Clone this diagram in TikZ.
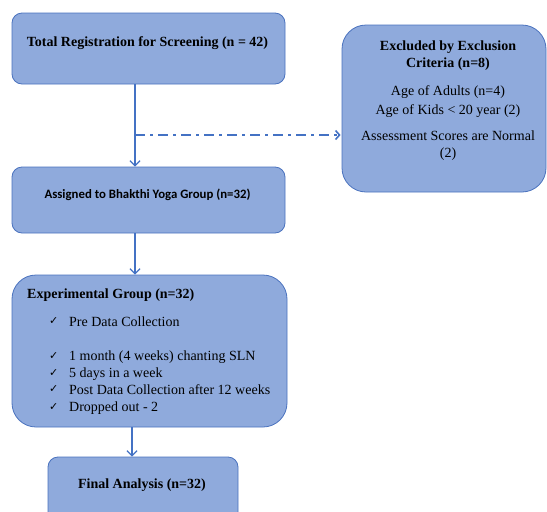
\documentclass[tikz,border=0pt]{standalone}
\usepackage{fontspec}
\setmainfont{Liberation Serif}
\newfontfamily\calib{Carlito}
\newfontfamily\dejavu{DejaVu Sans}
\usetikzlibrary{arrows.meta}
\definecolor{boxfill}{HTML}{8FAADC}
\definecolor{boxline}{HTML}{4A72BE}
\definecolor{arrowc}{HTML}{4472C4}
\tikzset{
  box/.style={draw=boxline, fill=boxfill, line width=0.8pt, rounded corners=10pt, inner sep=0pt},
  bigbox/.style={box, rounded corners=24pt},
  conn/.style={draw=arrowc, line width=1.3pt, -{Straight Barb[length=5pt,width=10pt,line width=1.3pt]}},
  dashconn/.style={draw=arrowc, line width=2pt, dash pattern=on 10pt off 5pt on 3pt off 5pt, -{Straight Barb[length=4pt,width=9pt,line width=1.6pt]}},
  ttl/.style={font=\fontsize{14}{17}\selectfont\bfseries, inner sep=0pt},
  txt/.style={font=\fontsize{14}{17}\selectfont, inner sep=0pt},
  itm/.style={font=\fontsize{14}{17}\selectfont, inner sep=0pt, anchor=west},
  chk/.style={font=\dejavu\fontsize{11}{12}\selectfont, inner sep=0pt, anchor=west}
}
\begin{document}
\begin{tikzpicture}[x=1pt,y=-1pt]
\useasboundingbox (0,0) rectangle (547,512);
\clip (0,0) rectangle (547,512);
% boxes
\node[box, minimum width=273pt, minimum height=71pt] (reg) at (148.5,48.5) {};
\node[bigbox, minimum width=204pt, minimum height=167pt] (excl) at (444,108.5) {};
\node[box, minimum width=273pt, minimum height=66pt] (assign) at (148.5,200) {};
\node[bigbox, minimum width=275pt, minimum height=152pt] (exp) at (149.5,351) {};
\node[box, minimum width=190pt, minimum height=83pt] (final) at (143,498.5) {};
% texts
\node[ttl] (t1) at (147.5,43) {Total Registration for Screening (n = 42)};
\node[ttl, align=center] (t2) at (448,56) {Excluded by Exclusion\\Criteria (n=8)};
\node[txt] (t3) at (448,92) {Age of Adults (n=4)};
\node[txt] (t4) at (448,111) {Age of Kids {\textless} 20 year (2)};
\node[txt, align=center] (t5) at (448,146) {Assessment Scores are Normal\\(2)};
\node[font=\calib\fontsize{12.8}{15}\selectfont\bfseries, inner sep=0pt] (t6) at (147.5,195) {Assigned to Bhakthi Yoga Group (n=32)};
\node[ttl, anchor=west] (t7) at (27,295) {Experimental Group (n=32)};
\node[chk] (k1) at (49,321) {✓};
\node[itm] (i1) at (69,322) {Pre Data Collection};
\node[chk] (k2) at (49,356) {✓};
\node[itm] (i2) at (69,357) {1 month (4 weeks) chanting SLN};
\node[chk] (k3) at (49,373) {✓};
\node[itm] (i3) at (69,374) {5 days in a week};
\node[chk] (k4) at (49,389) {✓};
\node[itm] (i4) at (69,390) {Post Data Collection after 12 weeks};
\node[chk] (k5) at (49,407) {✓};
\node[itm] (i5) at (69,408) {Dropped out - 2};
\node[ttl] (t8) at (142,485) {Final Analysis (n=32)};
% connectors
\coordinate (cx1) at (135,0);
\coordinate (split) at (135,135);
\coordinate (cx2) at (132,0);
\draw[conn] (reg.south -| cx1) -- (assign.north -| cx1);
\draw[dashconn] (split) -- ([xshift=-1pt]split -| excl.west);
\draw[conn] (assign.south -| cx1) -- (exp.north -| cx1);
\draw[conn] (exp.south -| cx2) -- (final.north -| cx2);
\end{tikzpicture}
\end{document}
